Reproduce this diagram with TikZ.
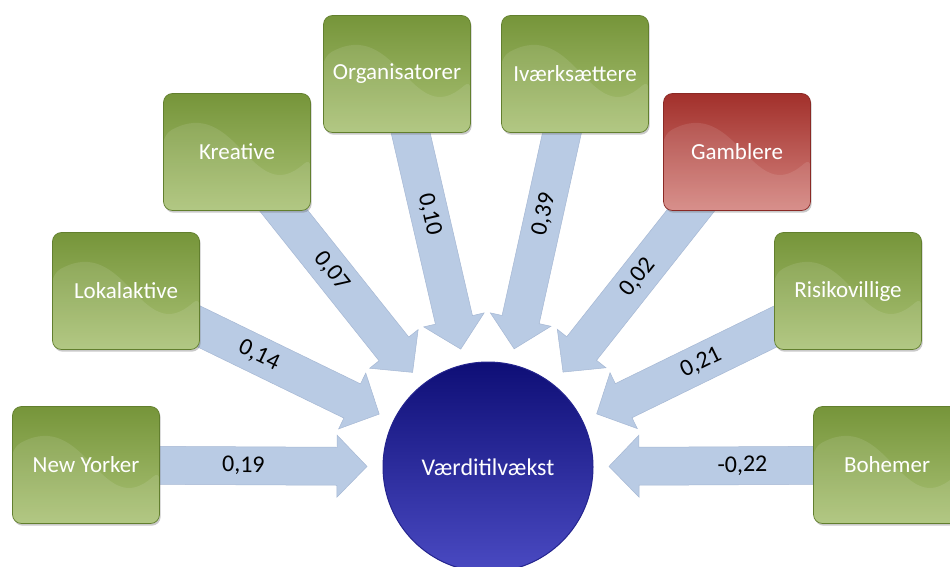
\documentclass[tikz,border=0pt]{standalone}
\usepackage{fontspec}
\setmainfont{Carlito}
\usetikzlibrary{calc,shadows}
\pgfdeclarelayer{back}
\pgfdeclarelayer{background}
\pgfsetlayers{back,background,main}
\definecolor{gtop}{HTML}{76953A}
\definecolor{gbot}{HTML}{AAC276}
\definecolor{gedge}{HTML}{627F2E}
\definecolor{rtop}{HTML}{A2302B}
\definecolor{rbot}{HTML}{D4847F}
\definecolor{redge}{HTML}{8A2925}
\definecolor{arrowc}{HTML}{B9CBE4}
\definecolor{arrowe}{HTML}{A6B8D4}
\definecolor{ctop}{HTML}{0E0E76}
\definecolor{cbot}{HTML}{4A4AC2}
\definecolor{cedge}{HTML}{24248E}
\newcommand\flowarrow[3]{%
  \coordinate (h#1) at ($(t#1)!30pt!(#1.center)$);
  \begin{pgfonlayer}{background}
  \filldraw[arrowbody]
    ($(#1.center)!19pt!90:(t#1)$) -- ($(h#1)!19pt!90:(t#1)$) --
    ($(h#1)!31pt!90:(t#1)$) -- (t#1) -- ($(h#1)!31pt!-90:(t#1)$) --
    ($(h#1)!19pt!-90:(t#1)$) -- ($(#1.center)!19pt!-90:(t#1)$) -- cycle;
  \end{pgfonlayer}
  \path (#1.center) -- (t#1) node[lbl,pos=#3]{#2};
}
\begin{document}
\begin{tikzpicture}[x=1pt,y=-1pt,
  box/.style={draw=gedge, line width=0.7pt, rounded corners=9pt,
    minimum width=147pt, minimum height=117pt, inner sep=0pt,
    top color=gtop, bottom color=gbot, text=white,
    font=\fontsize{23}{27}\selectfont,
    drop shadow={shadow xshift=1.2pt, shadow yshift=-2.2pt, opacity=0.35, fill=black!60},
    path picture={\fill[white,opacity=0.10]
      ($(path picture bounding box.north west)!0.35!(path picture bounding box.south west)$)
      .. controls ($(path picture bounding box.north west)!0.5!(path picture bounding box.north east)$)
      and ($(path picture bounding box.south west)!0.6!(path picture bounding box.south east)$)
      .. ($(path picture bounding box.north east)!0.55!(path picture bounding box.south east)$)
      -- (path picture bounding box.south east) -- (path picture bounding box.south west) -- cycle;}},
  redbox/.style={box, draw=redge, top color=rtop, bottom color=rbot},
  hub/.style={circle, draw=cedge, line width=1pt, minimum size=210pt, inner sep=0pt,
    top color=ctop, bottom color=cbot, text=white,
    font=\fontsize{24}{28}\selectfont},
  arrowbody/.style={fill=arrowc, draw=arrowe, line width=0.5pt, line join=miter},
  lbl/.style={font=\fontsize{24}{28}\selectfont, text=black, sloped, inner sep=0pt}
]
\clip (0,0) rectangle (950,567);
\begin{pgfonlayer}{back}
\fill[white] (0,0) rectangle (950,567);
\end{pgfonlayer}

\node[hub] (V) at (488,467) {Værditilvækst};

\node[box] (NY) at (86,465) {New Yorker};
\node[box] (LO) at (126,291) {Lokalaktive};
\node[box] (KR) at (237,152) {Kreative};
\node[box] (OR) at (397,74) {Organisatorer};
\node[box] (IV) at (575,74) {Iværksættere};
\node[redbox] (GA) at (737,152) {Gamblere};
\node[box] (RI) at (848,291) {Risikovillige};
\node[box] (BO) at (887,465) {Bohemer};

\foreach \n in {NY,LO,KR,OR,IV,GA,RI,BO}{
  \coordinate (t\n) at ($(V.center)!121pt!(\n.center)$);
}

\flowarrow{NY}{0,19}{0.56}
\flowarrow{LO}{0,14}{0.525}
\flowarrow{KR}{0,07}{0.54}
\flowarrow{OR}{0,10}{0.51}
\flowarrow{IV}{0,39}{0.51}
\flowarrow{GA}{0,02}{0.57}
\flowarrow{RI}{0,21}{0.585}
\flowarrow{BO}{-0,22}{0.52}
\end{tikzpicture}
\end{document}
